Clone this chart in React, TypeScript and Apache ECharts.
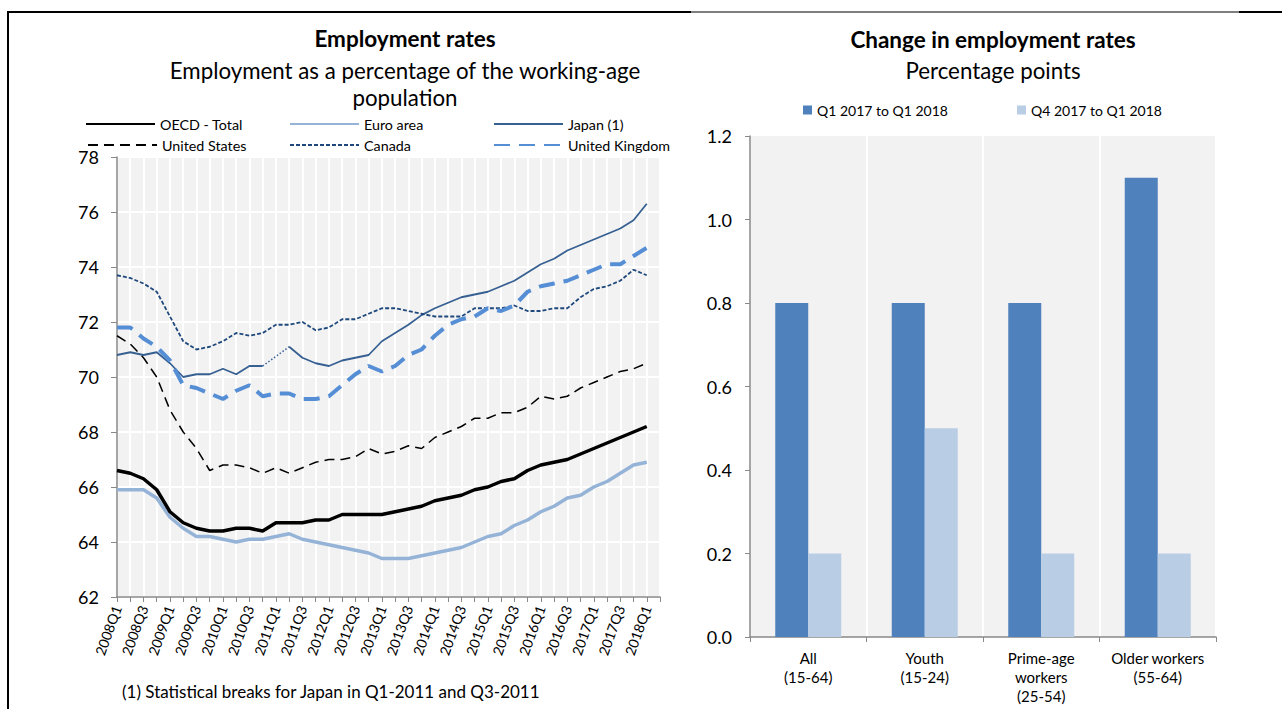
import React, { useEffect, useRef } from "react";
import * as echarts from "echarts";

const quarters = [
  "2008Q1","2008Q2","2008Q3","2008Q4","2009Q1","2009Q2","2009Q3","2009Q4",
  "2010Q1","2010Q2","2010Q3","2010Q4","2011Q1","2011Q2","2011Q3","2011Q4",
  "2012Q1","2012Q2","2012Q3","2012Q4","2013Q1","2013Q2","2013Q3","2013Q4",
  "2014Q1","2014Q2","2014Q3","2014Q4","2015Q1","2015Q2","2015Q3","2015Q4",
  "2016Q1","2016Q2","2016Q3","2016Q4","2017Q1","2017Q2","2017Q3","2017Q4",
  "2018Q1","2018Q2"
];

const oecd = [66.6,66.5,66.3,65.9,65.1,64.7,64.5,64.4,64.4,64.5,64.5,64.4,64.7,64.7,64.7,64.8,64.8,65.0,65.0,65.0,65.0,65.1,65.2,65.3,65.5,65.6,65.7,65.9,66.0,66.2,66.3,66.6,66.8,66.9,67.0,67.2,67.4,67.6,67.8,68.0,68.2];
const euro = [65.9,65.9,65.9,65.6,64.9,64.5,64.2,64.2,64.1,64.0,64.1,64.1,64.2,64.3,64.1,64.0,63.9,63.8,63.7,63.6,63.4,63.4,63.4,63.5,63.6,63.7,63.8,64.0,64.2,64.3,64.6,64.8,65.1,65.3,65.6,65.7,66.0,66.2,66.5,66.8,66.9];
const japan = [70.8,70.9,70.8,70.9,70.5,70.0,70.1,70.1,70.3,70.1,70.4,70.4,null,71.1,70.7,70.5,70.4,70.6,70.7,70.8,71.3,71.6,71.9,72.25,72.5,72.7,72.9,73.0,73.1,73.3,73.5,73.8,74.1,74.3,74.6,74.8,75.0,75.2,75.4,75.7,76.3];
const us = [71.5,71.2,70.7,70.0,68.8,68.0,67.4,66.6,66.8,66.8,66.7,66.5,66.7,66.5,66.7,66.9,67.0,67.0,67.1,67.4,67.2,67.3,67.5,67.4,67.8,68.0,68.2,68.5,68.5,68.7,68.7,68.9,69.3,69.2,69.3,69.6,69.8,70.0,70.2,70.3,70.5];
const canada = [73.7,73.6,73.4,73.1,72.2,71.3,71.0,71.1,71.3,71.6,71.5,71.6,71.9,71.9,72.0,71.7,71.8,72.1,72.1,72.3,72.5,72.5,72.4,72.3,72.2,72.2,72.2,72.5,72.5,72.5,72.6,72.4,72.4,72.5,72.5,72.9,73.2,73.3,73.5,73.9,73.7];
const uk = [71.8,71.8,71.4,71.1,70.6,69.7,69.6,69.4,69.2,69.5,69.7,69.3,69.4,69.4,69.2,69.2,69.3,69.7,70.1,70.4,70.2,70.4,70.8,71.0,71.5,71.9,72.1,72.2,72.5,72.4,72.6,73.1,73.3,73.4,73.5,73.7,73.9,74.1,74.1,74.4,74.7];

// Japan statistical break: dotted connection across the missing quarter
const japanBreak = japan.map((v, i) => (i === 11 || i === 13 ? v : null));

const groups = ["All\n(15-64)", "Youth\n(15-24)", "Prime-age\nworkers\n(25-54)", "Older workers\n(55-64)"];
const yearChange = [0.8, 0.8, 0.8, 1.1];
const quarterChange = [0.2, 0.5, 0.2, 0.2];

const FONT = "Lato";
const AXIS_GRAY = "#898989";

export default function App() {
  const ref = useRef<HTMLDivElement>(null);
  useEffect(() => {
    const chart = echarts.init(ref.current!, null, { renderer: "svg" });
    const lineLegend = (name: string, left: number, top: number) => ({
      data: [name], left, top, padding: 0, itemWidth: 69, itemHeight: 14, itemGap: 0,
      selectedMode: false,
      itemStyle: { opacity: 0 },
      textStyle: { fontSize: 14.3, color: "#000", fontFamily: FONT },
    });
    const barLegend = (name: string, left: number, top: number) => ({
      data: [name], left, top, padding: 0, itemWidth: 9, itemHeight: 9, itemGap: 0,
      icon: "rect", selectedMode: false,
      textStyle: { fontSize: 14, color: "#000", fontFamily: FONT },
    });
    const option: any = {
      animation: false,
      textStyle: { fontFamily: FONT },
      grid: [
        { left: 117, top: 157, width: 543, height: 440, show: true, backgroundColor: "#f2f2f2", borderWidth: 0 },
        { left: 750, top: 136, width: 466, height: 501, show: true, backgroundColor: "#f2f2f2", borderWidth: 0 },
      ],
      legend: [
        lineLegend("OECD - Total", 85, 117),
        lineLegend("Euro area", 289, 117),
        lineLegend("Japan (1)", 493, 117),
        lineLegend("United States", 87, 138),
        lineLegend("Canada", 289, 138),
        lineLegend("United Kingdom", 493, 138),
        barLegend("Q1 2017 to Q1 2018", 803, 103),
        barLegend("Q4 2017 to Q1 2018", 1017, 103),
      ],
      xAxis: [
        {
          type: "category", gridIndex: 0, data: quarters, boundaryGap: false,
          axisLine: { show: true, lineStyle: { color: AXIS_GRAY, width: 1.5 } },
          axisTick: { show: true, interval: 0, length: 5, lineStyle: { color: AXIS_GRAY } },
          axisLabel: { interval: 1, rotate: 70, fontSize: 14, color: "#000", margin: 9, fontFamily: FONT },
          splitLine: { show: true, interval: 0, lineStyle: { color: "#ffffff", width: 2 } },
        },
        {
          type: "category", gridIndex: 1, data: groups,
          axisLine: { show: true, lineStyle: { color: AXIS_GRAY, width: 1.5 } },
          axisTick: { show: true, interval: 0, length: 5, lineStyle: { color: AXIS_GRAY } },
          axisLabel: { interval: 0, fontSize: 15, color: "#000", margin: 11, lineHeight: 19, fontFamily: FONT },
          splitLine: { show: true, interval: 0, lineStyle: { color: "#ffffff", width: 2 } },
        },
      ],
      yAxis: [
        {
          type: "value", gridIndex: 0, min: 62, max: 78, interval: 2,
          axisLine: { show: true, lineStyle: { color: AXIS_GRAY, width: 1.5 } },
          axisTick: { show: true, length: 6, lineStyle: { color: AXIS_GRAY } },
          axisLabel: { fontSize: 18, color: "#000", margin: 18, fontFamily: FONT },
          splitLine: { show: true, lineStyle: { color: "#ffffff", width: 2 } },
        },
        {
          type: "value", gridIndex: 1, min: 0, max: 1.2, interval: 0.2,
          axisLine: { show: true, lineStyle: { color: AXIS_GRAY, width: 1.5 } },
          axisTick: { show: true, length: 5, lineStyle: { color: AXIS_GRAY } },
          axisLabel: { fontSize: 18, color: "#000", margin: 18, fontFamily: FONT, formatter: (v: number) => v.toFixed(1) },
          splitLine: { show: false },
        },
      ],
      series: [
        { name: "OECD - Total", type: "line", xAxisIndex: 0, yAxisIndex: 0, data: oecd, symbol: "none", z: 10,
          lineStyle: { color: "#000000", width: 3.5 }, itemStyle: { color: "#000000" } },
        { name: "Euro area", type: "line", xAxisIndex: 0, yAxisIndex: 0, data: euro, symbol: "none",
          lineStyle: { color: "#95b3d7", width: 3.5 }, itemStyle: { color: "#95b3d7" } },
        { name: "Japan (1)", type: "line", xAxisIndex: 0, yAxisIndex: 0, data: japan, symbol: "none",
          lineStyle: { color: "#376092", width: 1.8 }, itemStyle: { color: "#376092" } },
        { name: "Japan break", type: "line", xAxisIndex: 0, yAxisIndex: 0, data: japanBreak, symbol: "none", connectNulls: true,
          lineStyle: { color: "#376092", width: 1.5, type: [1.5, 2] }, itemStyle: { color: "#376092" } },
        { name: "United States", type: "line", xAxisIndex: 0, yAxisIndex: 0, data: us, symbol: "none",
          lineStyle: { color: "#000000", width: 1.5, type: [10, 6] }, itemStyle: { color: "#000000" } },
        { name: "Canada", type: "line", xAxisIndex: 0, yAxisIndex: 0, data: canada, symbol: "none",
          lineStyle: { color: "#1f497d", width: 1.8, type: [4, 2] }, itemStyle: { color: "#1f497d" } },
        { name: "United Kingdom", type: "line", xAxisIndex: 0, yAxisIndex: 0, data: uk, symbol: "none",
          lineStyle: { color: "#558ed5", width: 4, type: [16, 9] }, itemStyle: { color: "#558ed5" } },
        { name: "Q1 2017 to Q1 2018", type: "bar", xAxisIndex: 1, yAxisIndex: 1, data: yearChange,
          barWidth: 33, barGap: "0%", itemStyle: { color: "#4f81bd" } },
        { name: "Q4 2017 to Q1 2018", type: "bar", xAxisIndex: 1, yAxisIndex: 1, data: quarterChange,
          barWidth: 33, barGap: "0%", itemStyle: { color: "#b9cde5" } },
      ],
      graphic: [
        { type: "rect", shape: { x: 7, y: 11, width: 684, height: 2 }, style: { fill: "#000" } },
        { type: "rect", shape: { x: 691, y: 11.5, width: 548, height: 1 }, style: { fill: "#000" } },
        { type: "rect", shape: { x: 1239, y: 11, width: 43, height: 2 }, style: { fill: "#000" } },
        { type: "rect", shape: { x: 7, y: 11, width: 2, height: 698 }, style: { fill: "#000" } },
        { type: "text", x: 405, y: 38, style: { text: "Employment rates", font: `bold 22.5px ${FONT}`, fill: "#000", textAlign: "center", textVerticalAlign: "middle" } },
        { type: "text", x: 405, y: 70, style: { text: "Employment as a percentage of the working-age", font: `22.3px ${FONT}`, fill: "#000", textAlign: "center", textVerticalAlign: "middle" } },
        { type: "text", x: 405, y: 97, style: { text: "population", font: `22.3px ${FONT}`, fill: "#000", textAlign: "center", textVerticalAlign: "middle" } },
        { type: "text", x: 993, y: 39, style: { text: "Change in employment rates", font: `bold 22.5px ${FONT}`, fill: "#000", textAlign: "center", textVerticalAlign: "middle" } },
        { type: "text", x: 993, y: 70, style: { text: "Percentage points", font: `22.3px ${FONT}`, fill: "#000", textAlign: "center", textVerticalAlign: "middle" } },
        { type: "text", x: 122, y: 691, style: { text: "(1) Statistical breaks for Japan in Q1-2011 and Q3-2011", font: `17px ${FONT}`, fill: "#000", textAlign: "left", textVerticalAlign: "middle" } },
      ],
    };
    chart.setOption(option);
    return () => chart.dispose();
  }, []);
  return (
    <div
      ref={ref}
      style={{ position: "absolute", left: 0, top: 0, width: 1282, height: 709, background: "#fff" }}
    />
  );
}
